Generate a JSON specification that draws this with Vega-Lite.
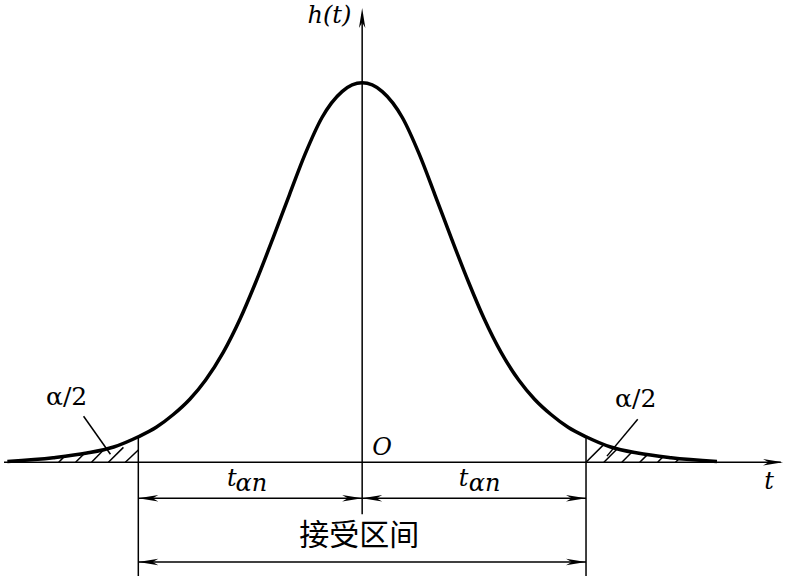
{
  "$schema": "https://vega.github.io/schema/vega-lite/v6.json",
  "width": 786,
  "height": 577,
  "padding": 0,
  "autosize": {"type": "fit", "contains": "padding"},
  "background": "white",
  "config": {"view": {"stroke": null}},
  "datasets": {
    "curve": [
      {"t": -3.17, "h": 0.002}, {"t": -2.76, "h": 0.012}, {"t": -2.46, "h": 0.024},
      {"t": -2.22, "h": 0.040}, {"t": -2.0, "h": 0.067}, {"t": -1.84, "h": 0.092},
      {"t": -1.69, "h": 0.125}, {"t": -1.54, "h": 0.166}, {"t": -1.40, "h": 0.216},
      {"t": -1.24, "h": 0.290}, {"t": -1.09, "h": 0.378}, {"t": -0.95, "h": 0.475},
      {"t": -0.80, "h": 0.588}, {"t": -0.65, "h": 0.705}, {"t": -0.51, "h": 0.812},
      {"t": -0.36, "h": 0.908}, {"t": -0.18, "h": 0.977}, {"t": 0.0, "h": 1.0},
      {"t": 0.18, "h": 0.977}, {"t": 0.36, "h": 0.908}, {"t": 0.51, "h": 0.812},
      {"t": 0.65, "h": 0.705}, {"t": 0.80, "h": 0.588}, {"t": 0.95, "h": 0.475},
      {"t": 1.09, "h": 0.378}, {"t": 1.24, "h": 0.290}, {"t": 1.40, "h": 0.216},
      {"t": 1.54, "h": 0.166}, {"t": 1.69, "h": 0.125}, {"t": 1.84, "h": 0.092},
      {"t": 2.0, "h": 0.067}, {"t": 2.22, "h": 0.040}, {"t": 2.46, "h": 0.024},
      {"t": 2.76, "h": 0.012}, {"t": 3.17, "h": 0.002}
    ],
    "lines": [
      {"name": "t axis", "t1": -3.2, "h1": 0, "t2": 3.74, "h2": 0},
      {"name": "h axis", "t1": 0, "h1": -0.137, "t2": 0, "h2": 1.18},
      {"name": "left bound", "t1": -2.0, "h1": 0.067, "t2": -2.0, "h2": -0.3},
      {"name": "right bound", "t1": 2.0, "h1": 0.067, "t2": 2.0, "h2": -0.3},
      {"name": "t_an dim", "t1": -2.0, "h1": -0.095, "t2": 2.0, "h2": -0.095},
      {"name": "interval dim", "t1": -2.0, "h1": -0.263, "t2": 2.0, "h2": -0.263},
      {"name": "leader L", "t1": -2.489, "h1": 0.121, "t2": -2.249, "h2": 0.021},
      {"name": "leader R", "t1": 2.462, "h1": 0.113, "t2": 2.187, "h2": 0.016},
      {"name": "hatch", "t1": -2.711, "h1": 0, "t2": -2.658, "h2": 0.016},
      {"name": "hatch", "t1": -2.56, "h1": 0, "t2": -2.489, "h2": 0.021},
      {"name": "hatch", "t1": -2.418, "h1": 0, "t2": -2.311, "h2": 0.032},
      {"name": "hatch", "t1": -2.267, "h1": 0, "t2": -2.133, "h2": 0.039},
      {"name": "hatch", "t1": -2.116, "h1": 0, "t2": -2.0, "h2": 0.032},
      {"name": "hatch", "t1": 2.0, "h1": 0, "t2": 2.16, "h2": 0.047},
      {"name": "hatch", "t1": 2.16, "h1": 0, "t2": 2.284, "h2": 0.037},
      {"name": "hatch", "t1": 2.32, "h1": 0, "t2": 2.409, "h2": 0.026},
      {"name": "hatch", "t1": 2.48, "h1": 0, "t2": 2.542, "h2": 0.018},
      {"name": "hatch", "t1": 2.64, "h1": 0, "t2": 2.684, "h2": 0.013},
      {"name": "hatch", "t1": 2.8, "h1": 0, "t2": 2.827, "h2": 0.008}
    ],
    "arrows": [
      {"dir": "right", "t": 3.76, "h": 0},
      {"dir": "right", "t": 0, "h": -0.095},
      {"dir": "right", "t": 2.0, "h": -0.095},
      {"dir": "right", "t": 2.0, "h": -0.263},
      {"dir": "left", "t": -2.0, "h": -0.095},
      {"dir": "left", "t": 0, "h": -0.095},
      {"dir": "left", "t": -2.0, "h": -0.263},
      {"dir": "up", "t": 0, "h": 1.197}
    ],
    "labels": [
      {"kind": "italic", "text": "h(t)", "t": -0.293, "h": 1.158},
      {"kind": "italic", "text": "O", "t": 0.178, "h": 0.018},
      {"kind": "italic", "text": "t", "t": 3.636, "h": -0.071},
      {"kind": "italic", "text": "t", "t": -1.164, "h": -0.063},
      {"kind": "italic", "text": "αn", "t": -0.991, "h": -0.076},
      {"kind": "italic", "text": "t", "t": 0.907, "h": -0.063},
      {"kind": "italic", "text": "αn", "t": 1.093, "h": -0.076},
      {"kind": "alpha", "text": "α/2", "t": -2.64, "h": 0.15},
      {"kind": "alpha", "text": "α/2", "t": 2.444, "h": 0.145},
      {"kind": "cjk", "text": "接受区间", "t": -0.027, "h": -0.195}
    ]
  },
  "layer": [
    {
      "data": {"name": "lines"},
      "mark": {"type": "rule", "color": "black", "strokeWidth": 1.5},
      "encoding": {
        "x": {"field": "t1", "type": "quantitative", "axis": null, "scale": {"domain": [-3.2, 3.7867], "nice": false, "zero": false}},
        "x2": {"field": "t2"},
        "y": {"field": "h1", "type": "quantitative", "axis": null, "scale": {"domain": [-0.3, 1.2184], "nice": false, "zero": false}},
        "y2": {"field": "h2"}
      }
    },
    {
      "data": {"name": "curve"},
      "mark": {"type": "line", "color": "black", "strokeWidth": 3.5, "interpolate": "monotone"},
      "encoding": {
        "x": {"field": "t", "type": "quantitative", "axis": null, "scale": {"domain": [-3.2, 3.7867], "nice": false, "zero": false}},
        "y": {"field": "h", "type": "quantitative", "axis": null, "scale": {"domain": [-0.3, 1.2184], "nice": false, "zero": false}}
      }
    },
    {
      "data": {"name": "arrows"},
      "transform": [{"filter": "datum.dir === 'right'"}],
      "mark": {"type": "point", "shape": "M0,0L-1,-0.16L-0.72,0L-1,0.16Z", "size": 1600, "filled": true, "color": "black", "opacity": 1, "strokeWidth": 0, "angle": 0},
      "encoding": {
        "x": {"field": "t", "type": "quantitative", "axis": null, "scale": {"domain": [-3.2, 3.7867], "nice": false, "zero": false}},
        "y": {"field": "h", "type": "quantitative", "axis": null, "scale": {"domain": [-0.3, 1.2184], "nice": false, "zero": false}}
      }
    },
    {
      "data": {"name": "arrows"},
      "transform": [{"filter": "datum.dir === 'left'"}],
      "mark": {"type": "point", "shape": "M0,0L-1,-0.16L-0.72,0L-1,0.16Z", "size": 1600, "filled": true, "color": "black", "opacity": 1, "strokeWidth": 0, "angle": 180},
      "encoding": {
        "x": {"field": "t", "type": "quantitative", "axis": null, "scale": {"domain": [-3.2, 3.7867], "nice": false, "zero": false}},
        "y": {"field": "h", "type": "quantitative", "axis": null, "scale": {"domain": [-0.3, 1.2184], "nice": false, "zero": false}}
      }
    },
    {
      "data": {"name": "arrows"},
      "transform": [{"filter": "datum.dir === 'up'"}],
      "mark": {"type": "point", "shape": "M0,0L-1,-0.16L-0.72,0L-1,0.16Z", "size": 1600, "filled": true, "color": "black", "opacity": 1, "strokeWidth": 0, "angle": 270},
      "encoding": {
        "x": {"field": "t", "type": "quantitative", "axis": null, "scale": {"domain": [-3.2, 3.7867], "nice": false, "zero": false}},
        "y": {"field": "h", "type": "quantitative", "axis": null, "scale": {"domain": [-0.3, 1.2184], "nice": false, "zero": false}}
      }
    },
    {
      "data": {"name": "labels"},
      "transform": [{"filter": "datum.kind === 'italic'"}],
      "mark": {"type": "text", "font": "DejaVu Serif", "fontStyle": "italic", "fontSize": 24, "align": "center", "baseline": "alphabetic", "color": "black"},
      "encoding": {
        "x": {"field": "t", "type": "quantitative", "axis": null, "scale": {"domain": [-3.2, 3.7867], "nice": false, "zero": false}},
        "y": {"field": "h", "type": "quantitative", "axis": null, "scale": {"domain": [-0.3, 1.2184], "nice": false, "zero": false}},
        "text": {"field": "text"}
      }
    },
    {
      "data": {"name": "labels"},
      "transform": [{"filter": "datum.kind === 'alpha'"}],
      "mark": {"type": "text", "font": "DejaVu Serif", "fontSize": 25, "align": "center", "baseline": "alphabetic", "color": "black"},
      "encoding": {
        "x": {"field": "t", "type": "quantitative", "axis": null, "scale": {"domain": [-3.2, 3.7867], "nice": false, "zero": false}},
        "y": {"field": "h", "type": "quantitative", "axis": null, "scale": {"domain": [-0.3, 1.2184], "nice": false, "zero": false}},
        "text": {"field": "text"}
      }
    },
    {
      "data": {"name": "labels"},
      "transform": [{"filter": "datum.kind === 'cjk'"}],
      "mark": {"type": "text", "font": "Noto Sans CJK SC", "fontSize": 30, "align": "center", "baseline": "middle", "color": "black"},
      "encoding": {
        "x": {"field": "t", "type": "quantitative", "axis": null, "scale": {"domain": [-3.2, 3.7867], "nice": false, "zero": false}},
        "y": {"field": "h", "type": "quantitative", "axis": null, "scale": {"domain": [-0.3, 1.2184], "nice": false, "zero": false}},
        "text": {"field": "text"}
      }
    }
  ]
}
